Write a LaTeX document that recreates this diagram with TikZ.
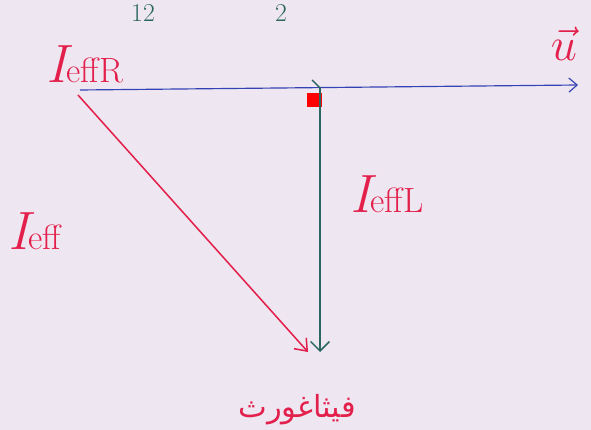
\RequirePackage{fix-cm}
\documentclass[tikz,border=0pt]{standalone}
\usepackage{amsmath}
\usepackage{fontspec}
\usetikzlibrary{positioning, arrows.meta}
\newfontfamily\arabicfont[Script=Arabic]{DejaVu Sans}
\TeXXeTstate=1
\definecolor{board}{HTML}{EEE7F1}
\definecolor{marker}{HTML}{E3204C}
\definecolor{bluemarker}{HTML}{3342B4}
\definecolor{greenmarker}{HTML}{2C6660}
\newcommand{\bigI}{{\fontsize{46}{46}\selectfont\itshape I}}
\newcommand{\effsub}[1]{{\fontsize{30}{30}\selectfont #1}}
\tikzset{
	vecU/.style={bluemarker, line width=1pt, -{Straight Barb[length=7pt, width=12pt]}},
	vecR/.style={marker, line width=1.3pt, -{Straight Barb[length=9pt, width=14pt]}},
	vecL/.style={greenmarker, line width=1.3pt, -{Straight Barb[length=8pt, width=16pt]}},
	lab/.style={marker, inner sep=0pt, anchor=base west},
	topnum/.style={greenmarker, font=\fontsize{22}{24}\selectfont, anchor=north, inner sep=1pt}
}

\begin{document}
\begin{tikzpicture}[x=0.03cm, y=-0.03cm]
\useasboundingbox (0,0) rectangle (591,430);
\clip (0,0) rectangle (591,430);
\fill [board] (0,0) rectangle (591,430);
\coordinate (O) at (80,90);
\coordinate (C) at (320,88);
\coordinate (U) at (578,85);
\coordinate (OR) at (78,95);
\coordinate (B) at (320,352);
\coordinate (R) at (308,352);
% top of the board
\node [topnum] (n12) at (143,3) {12};
\node [topnum] (n2) at (281,3) {2};
% right angle mark
\fill [red] (307,93) rectangle (322,107);
\draw [vecU] (O) -- (U);
\draw [vecL] (C) -- (B);
\draw [greenmarker, line width=1.2pt] (C) -- ++(-8,-8);
\draw [vecR] (OR) -- (R);
  \node [lab] (iR) at (46,83) {\bigI\effsub{effR}};
  \node [lab] (iL) at (350,213) {\bigI\effsub{effL}};
  \node [lab] (i) at (8,250) {\bigI\effsub{eff}};
  \node [marker, font=\fontsize{40}{40}\selectfont] (u) at (564,44) {$\vec{u}$};
  \node [marker, font=\fontsize{26}{28}\selectfont] (pyth) at (297,410) {\arabicfont\beginR فيثاغورث\endR};
\end{tikzpicture}
\end{document}
